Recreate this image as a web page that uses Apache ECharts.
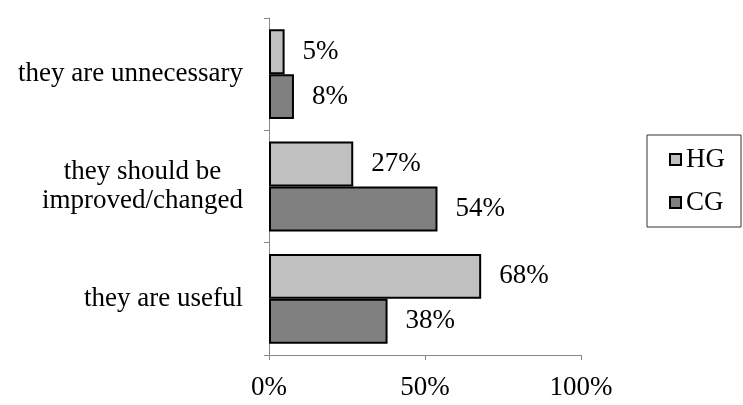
<!DOCTYPE html>
<html>
<head>
<meta charset="utf-8">
<script src="https://cdn.jsdelivr.net/npm/echarts@6/dist/echarts.min.js"></script>
<style>
  html, body { margin: 0; padding: 0; background: #fff; }
  #chart { width: 743px; height: 405px; }
</style>
</head>
<body>
<div id="chart"></div>
<script>
// categories listed top to bottom (y axis is inverted)
const categories = ['they are unnecessary', 'they should be\nimproved/changed', 'they are useful']
const hgValues = [5, 27, 68]
const cgValues = [8, 54, 38]
const xTicks = [0, 50, 100]

const FONT = '"Liberation Serif", "Times New Roman", serif'
const FONT_SIZE = 27

// measure lines so the two-line label gets its lines centred on each other
const ctx = document.createElement('canvas').getContext('2d')
ctx.font = `${FONT_SIZE}px ${FONT}`
const lineWidth = s => Math.ceil(ctx.measureText(s).width)
const twoLineWidth = Math.max(
  ...categories.filter(c => c.includes('\n')).flatMap(c => c.split('\n')).map(lineWidth)
)

const chart = echarts.init(document.getElementById('chart'))

const labelStyle = {
  show: true,
  position: 'right',
  distance: 18,
  formatter: p => p.value + '%',
  color: '#000',
  fontFamily: FONT,
  fontSize: FONT_SIZE
}

chart.setOption({
  animation: false,
  backgroundColor: '#fff',
  grid: { left: 269, right: 162, top: 18, bottom: 50 },
  legend: {
    data: ['HG', 'CG'],
    orient: 'vertical',
    left: 647,
    top: 135,
    padding: [11, 16, 11, 22],
    itemGap: 16,
    itemWidth: 11,
    itemHeight: 11,
    itemTextGap: 3,
    icon: 'rect',
    borderColor: '#333',
    borderWidth: 1,
    textStyle: { fontFamily: FONT, fontSize: FONT_SIZE, color: '#000' }
  },
  xAxis: {
    type: 'value',
    min: 0,
    max: 100,
    interval: 50,
    splitLine: { show: false },
    axisLine: { show: true, lineStyle: { color: '#888', width: 1 } },
    axisTick: { show: true, length: 5, lineStyle: { color: '#888' } },
    axisLabel: {
      margin: 19,
      color: '#000',
      fontFamily: FONT,
      fontSize: FONT_SIZE,
      formatter: v => (xTicks.includes(v) ? v + '%' : '')
    }
  },
  yAxis: {
    type: 'category',
    data: categories,
    inverse: true,
    axisLine: { show: true, lineStyle: { color: '#888', width: 1 } },
    axisTick: { show: true, length: 5, lineStyle: { color: '#888' } },
    axisLabel: {
      margin: 26,
      color: '#000',
      fontFamily: FONT,
      fontSize: FONT_SIZE,
      lineHeight: 29,
      formatter: v => v.includes('\n')
        ? v.split('\n').map(l => `{c|${l}}`).join('\n')
        : v,
      rich: {
        c: {
          width: twoLineWidth,
          align: 'center',
          fontFamily: FONT,
          fontSize: FONT_SIZE,
          lineHeight: 29,
          color: '#000'
        }
      }
    }
  },
  series: [
    {
      name: 'HG',
      type: 'bar',
      data: hgValues,
      barGap: '0%',
      barCategoryGap: '20%',
      itemStyle: { color: '#c0c0c0', borderColor: '#000', borderWidth: 2 },
      label: labelStyle
    },
    {
      name: 'CG',
      type: 'bar',
      data: cgValues,
      barGap: '0%',
      barCategoryGap: '20%',
      itemStyle: { color: '#808080', borderColor: '#000', borderWidth: 2 },
      label: labelStyle
    }
  ]
})
</script>
</body>
</html>
